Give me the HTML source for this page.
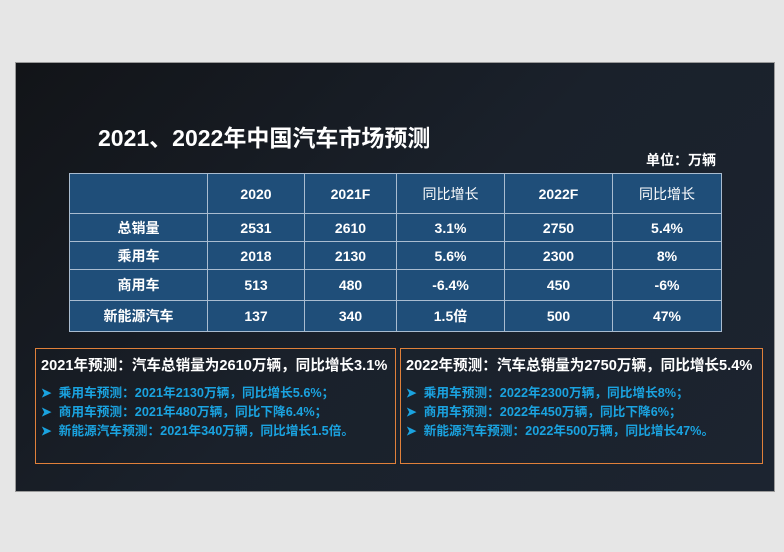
<!DOCTYPE html>
<html><head><meta charset="utf-8"><style>
*{margin:0;padding:0;box-sizing:border-box}
body{width:784px;height:552px;background:#e6e6e6;position:relative;overflow:hidden;font-family:"Liberation Sans","Noto Sans CJK SC",sans-serif}
#s{position:absolute;left:15px;top:62px;width:760px;height:430px;background:linear-gradient(135deg,#121418 0%,#1a212b 50%,#1c2430 100%);border:1px solid #9a9a9a}
.t{position:absolute;color:#fff;font-weight:bold;white-space:nowrap}
table{position:absolute;left:69px;top:173px;border-collapse:collapse;background:#1f4e79}
td{border:1.5px solid #a9bcd0;color:#fff;font-weight:bold;font-size:14px;text-align:center;height:28px;padding:0}
tr.h td{height:40px}
.box{position:absolute;top:348px;height:116px;border:1px solid #e0803a}
.box .hd{position:absolute;left:5px;top:5px;color:#fff;font-weight:bold;font-size:14.6px;white-space:nowrap}
.box .ls{position:absolute;left:5px;top:35px;color:#1aa3e0;font-weight:bold;font-size:12.7px;line-height:19px;white-space:nowrap}
</style></head><body>
<div id="s"></div>
<div class="t" style="left:98px;top:119px;font-size:23px">2021、2022年中国汽车市场预测</div>
<div class="t" style="left:646px;top:150px;font-size:14px">单位：万辆</div>
<table>
<tr class="h"><td style="width:138px"></td><td style="width:97px">2020</td><td style="width:92px">2021F</td><td style="width:108px;font-weight:normal">同比增长</td><td style="width:108px">2022F</td><td style="width:109px;font-weight:normal">同比增长</td></tr>
<tr><td>总销量</td><td>2531</td><td>2610</td><td>3.1%</td><td>2750</td><td>5.4%</td></tr>
<tr><td>乘用车</td><td>2018</td><td>2130</td><td>5.6%</td><td>2300</td><td>8%</td></tr>
<tr><td style="height:31px">商用车</td><td>513</td><td>480</td><td>-6.4%</td><td>450</td><td>-6%</td></tr>
<tr><td style="height:31px">新能源汽车</td><td>137</td><td>340</td><td>1.5倍</td><td>500</td><td>47%</td></tr>
</table>
<div class="box" style="left:35px;width:361px"><div class="hd">2021年预测：汽车总销量为2610万辆，同比增长3.1%</div>
<div class="ls">➤&nbsp; 乘用车预测：2021年2130万辆，同比增长5.6%；<br>➤&nbsp; 商用车预测：2021年480万辆，同比下降6.4%；<br>➤&nbsp; 新能源汽车预测：2021年340万辆，同比增长1.5倍。</div></div>
<div class="box" style="left:400px;width:363px"><div class="hd">2022年预测：汽车总销量为2750万辆，同比增长5.4%</div>
<div class="ls">➤&nbsp; 乘用车预测：2022年2300万辆，同比增长8%；<br>➤&nbsp; 商用车预测：2022年450万辆，同比下降6%；<br>➤&nbsp; 新能源汽车预测：2022年500万辆，同比增长47%。</div></div>
</body></html>
